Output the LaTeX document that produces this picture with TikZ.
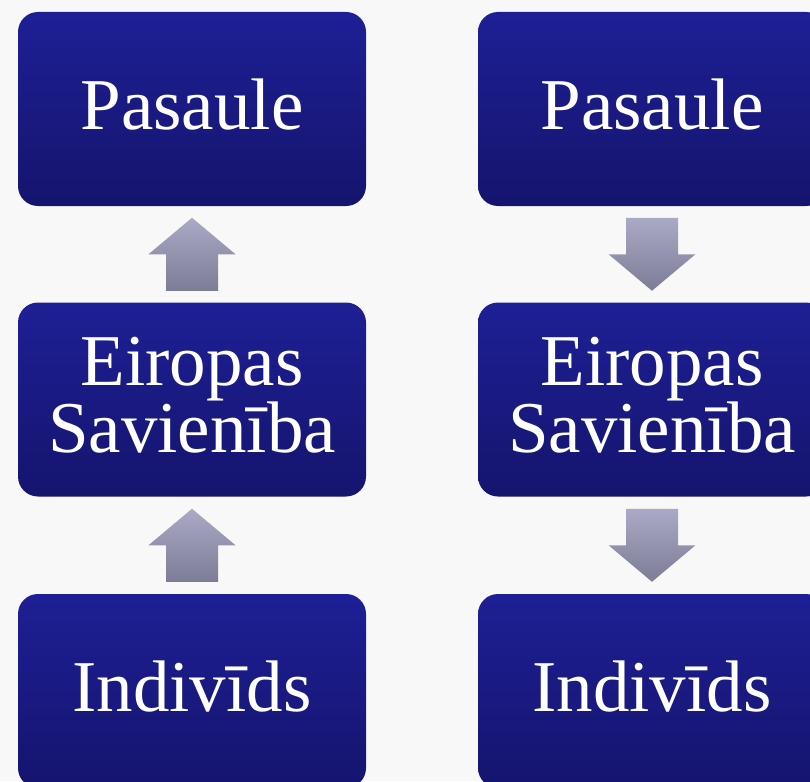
\documentclass[tikz,border=0pt]{standalone}
\usepackage{fontspec}
\setmainfont{Liberation Serif}
\usetikzlibrary{calc}
\definecolor{boxtop}{HTML}{1E1F95}
\definecolor{boxbot}{HTML}{15146E}
\definecolor{arrtop}{HTML}{AAAAC6}
\definecolor{arrbot}{HTML}{7C7C96}
\definecolor{bg}{HTML}{F8F8F8}
\tikzset{
  levelbox/.style={rectangle, rounded corners=20pt, minimum width=348pt, minimum height=194pt,
    inner sep=0pt, top color=boxtop, bottom color=boxbot, draw=none,
    label={[leveltext]center:#1}},
  leveltext/.style={text=white, align=center, yshift=4pt, inner sep=0pt,
    font=\fontsize{73}{65}\selectfont},
  blockarrow/.style={top color=arrtop, bottom color=arrbot, draw=none}
}
\begin{document}
\begin{tikzpicture}[x=1pt,y=-1pt]
\useasboundingbox (0,0) rectangle (810,781);
\fill[bg] (0,0) rectangle (810,781);
\node[levelbox={Pasaule}] (lp) at (192,109) {};
\node[levelbox={Eiropas\\Savienība}] (le) at (192,399.5) {};
\node[levelbox={Indivīds}] (li) at (192,691) {};
\node[levelbox={Pasaule}] (rp) at (652,109) {};
\node[levelbox={Eiropas\\Savienība}] (re) at (652,399.5) {};
\node[levelbox={Indivīds}] (ri) at (652,691) {};
\coordinate (m1) at ($(lp.south)!0.5!(le.north)$);
\coordinate (m2) at ($(le.south)!0.5!(li.north)$);
\coordinate (m3) at ($(rp.south)!0.5!(re.north)$);
\coordinate (m4) at ($(re.south)!0.5!(ri.north)$);
\foreach \m in {m1,m2}{
  \path[blockarrow, shift={(\m)}] (0,-36.5) -- (43.5,0) -- (26,0) -- (26,36.5) -- (-26,36.5) -- (-26,0) -- (-43.5,0) -- cycle;
}
\foreach \m in {m3,m4}{
  \path[blockarrow, shift={(\m)}] (-26,-36.5) -- (26,-36.5) -- (26,0) -- (43.5,0) -- (0,36.5) -- (-43.5,0) -- (-26,0) -- cycle;
}
\end{tikzpicture}
\end{document}
